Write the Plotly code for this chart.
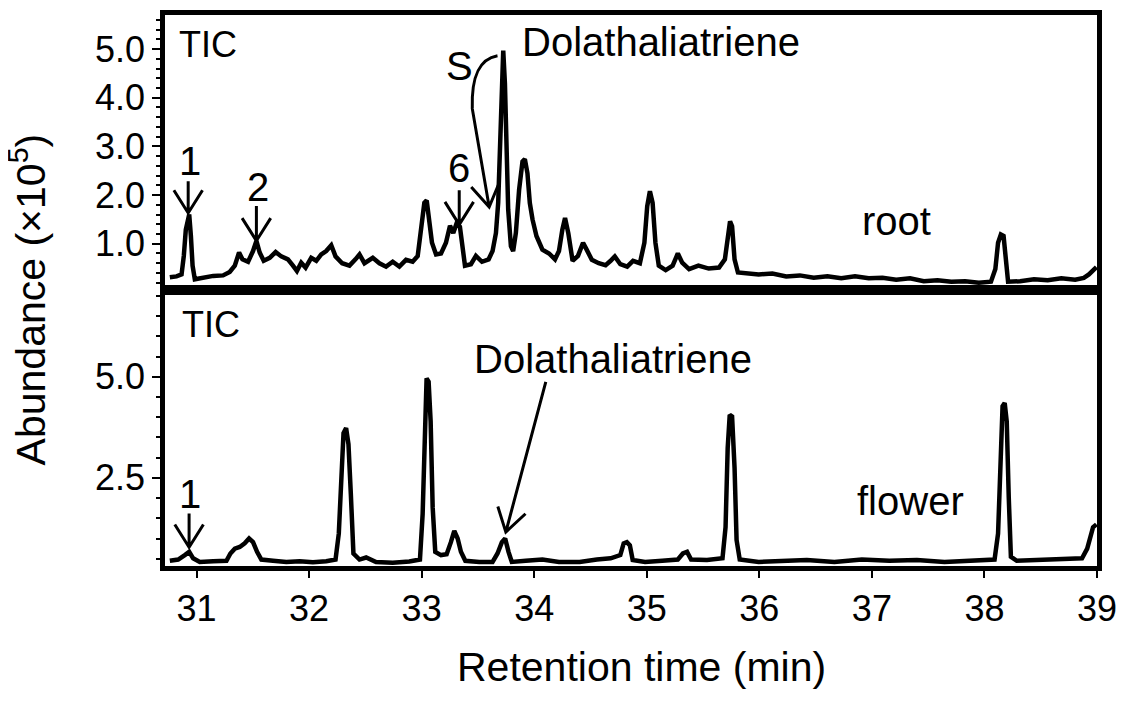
import numpy as np
import plotly.graph_objects as go
from plotly.subplots import make_subplots

# root TIC (retention time in min, abundance x10^5)
root_time = [30.763, 30.822, 30.867, 30.887, 30.905, 30.923, 30.935, 30.95, 30.965, 30.985,
             31.059, 31.148, 31.236, 31.295, 31.34, 31.378, 31.408, 31.458, 31.502, 31.532,
             31.561, 31.597, 31.65, 31.703, 31.753, 31.812, 31.857, 31.892, 31.93, 31.969,
             32.019, 32.064, 32.108, 32.152, 32.197, 32.235, 32.294, 32.359, 32.412, 32.448,
             32.492, 32.566, 32.625, 32.684, 32.743, 32.802, 32.861, 32.92, 32.965, 32.995,
             33.024, 33.045, 33.069, 33.092, 33.128, 33.172, 33.216, 33.252, 33.281, 33.311,
             33.34, 33.364, 33.385, 33.438, 33.482, 33.536, 33.595, 33.63, 33.66, 33.68,
             33.695, 33.71, 33.725, 33.74, 33.754, 33.769, 33.793, 33.813, 33.837, 33.866,
             33.896, 33.917, 33.94, 33.961, 33.985, 34.02, 34.073, 34.132, 34.185, 34.22,
             34.25, 34.274, 34.303, 34.341, 34.389, 34.434, 34.466, 34.512, 34.573, 34.634,
             34.679, 34.716, 34.765, 34.826, 34.878, 34.939, 34.979, 35.004, 35.028, 35.052,
             35.077, 35.107, 35.168, 35.23, 35.276, 35.315, 35.376, 35.459, 35.551, 35.642,
             35.694, 35.719, 35.74, 35.758, 35.78, 35.81, 35.887, 35.994, 36.116, 36.239,
             36.36, 36.483, 36.605, 36.728, 36.85, 36.972, 37.094, 37.216, 37.339, 37.461,
             37.583, 37.706, 37.828, 37.95, 38.058, 38.097, 38.121, 38.146, 38.17, 38.189,
             38.21, 38.317, 38.44, 38.562, 38.683, 38.806, 38.883, 38.928, 38.959, 38.995]
root_abund = [0.31, 0.33, 0.37, 0.75, 1.29, 1.57, 1.60, 1.16, 0.55, 0.27,
              0.31, 0.34, 0.35, 0.42, 0.55, 0.82, 0.68, 0.63, 0.85, 1.06,
              0.82, 0.65, 0.71, 0.83, 0.74, 0.68, 0.55, 0.44, 0.61, 0.51,
              0.71, 0.65, 0.78, 0.85, 0.97, 0.74, 0.60, 0.55, 0.68, 0.78,
              0.60, 0.71, 0.60, 0.53, 0.63, 0.53, 0.67, 0.63, 0.75, 1.29,
              1.84, 1.89, 1.50, 1.02, 0.78, 0.80, 1.02, 1.37, 1.22, 1.42,
              1.35, 0.95, 0.55, 0.58, 0.75, 0.63, 0.68, 0.85, 1.22, 1.84,
              3.06, 4.22, 4.97, 4.29, 2.86, 1.70, 0.95, 0.85, 1.22, 2.11,
              2.69, 2.74, 2.45, 1.84, 1.50, 1.16, 0.88, 0.80, 0.68, 0.85,
              1.29, 1.53, 1.22, 0.65, 0.75, 1.02, 0.88, 0.67, 0.60, 0.56,
              0.65, 0.74, 0.58, 0.53, 0.65, 0.60, 1.02, 1.77, 2.08, 1.84,
              1.02, 0.55, 0.46, 0.55, 0.80, 0.61, 0.48, 0.55, 0.49, 0.51,
              0.68, 1.22, 1.46, 1.36, 0.68, 0.41, 0.39, 0.37, 0.39, 0.33,
              0.35, 0.30, 0.33, 0.29, 0.33, 0.29, 0.30, 0.26, 0.29, 0.23,
              0.25, 0.22, 0.23, 0.20, 0.22, 0.48, 1.02, 1.19, 1.16, 0.68,
              0.22, 0.23, 0.27, 0.25, 0.29, 0.26, 0.30, 0.37, 0.44, 0.52]

# flower TIC
flower_time = [30.763, 30.837, 30.896, 30.935, 30.97, 31.029, 31.148, 31.266, 31.301, 31.34,
               31.384, 31.428, 31.467, 31.502, 31.538, 31.576, 31.68, 31.798, 31.916, 32.034,
               32.152, 32.235, 32.264, 32.285, 32.306, 32.329, 32.35, 32.371, 32.394, 32.448,
               32.507, 32.595, 32.743, 32.89, 32.985, 33.009, 33.027, 33.044, 33.062, 33.08,
               33.098, 33.121, 33.172, 33.222, 33.26, 33.29, 33.32, 33.349, 33.388, 33.512,
               33.63, 33.674, 33.713, 33.742, 33.772, 33.801, 33.925, 34.073, 34.22, 34.404,
               34.557, 34.679, 34.765, 34.795, 34.823, 34.85, 34.875, 34.985, 35.138, 35.276,
               35.321, 35.358, 35.394, 35.535, 35.673, 35.70, 35.719, 35.737, 35.758, 35.78,
               35.798, 35.826, 35.994, 36.207, 36.422, 36.667, 36.911, 37.155, 37.40, 37.645,
               37.889, 38.09, 38.121, 38.143, 38.161, 38.18, 38.198, 38.216, 38.235, 38.287,
               38.501, 38.715, 38.867, 38.913, 38.944, 38.965, 38.995]
flower_abund = [0.45, 0.48, 0.59, 0.67, 0.51, 0.42, 0.44, 0.45, 0.63, 0.75,
                0.79, 0.88, 1.00, 0.91, 0.67, 0.48, 0.45, 0.42, 0.44, 0.41,
                0.44, 0.48, 1.12, 2.75, 3.61, 3.73, 3.33, 2.10, 0.63, 0.48,
                0.53, 0.42, 0.40, 0.43, 0.48, 1.61, 3.90, 4.96, 4.88, 3.90,
                1.77, 0.67, 0.59, 0.61, 0.91, 1.19, 1.00, 0.67, 0.45, 0.42,
                0.42, 0.63, 0.91, 1.00, 0.67, 0.42, 0.45, 0.48, 0.42, 0.42,
                0.48, 0.51, 0.59, 0.88, 0.91, 0.83, 0.47, 0.42, 0.45, 0.48,
                0.63, 0.67, 0.48, 0.47, 0.51, 1.28, 3.24, 4.06, 4.02, 2.75,
                0.96, 0.48, 0.42, 0.44, 0.47, 0.42, 0.48, 0.45, 0.47, 0.42,
                0.44, 0.48, 1.12, 3.24, 4.27, 4.35, 3.90, 2.02, 0.55, 0.45,
                0.47, 0.48, 0.51, 0.75, 1.04, 1.28, 1.35]

# text labels inside each panel
root_label_text = ["TIC", "Dolathaliatriene", "S", "1", "2", "6", "root"]
root_label_x = [30.83, 33.87, 33.334, 30.94, 31.546, 33.334, 37.22]
root_label_y = [5.10, 5.14, 4.66, 2.71, 2.17, 2.56, 1.47]
root_label_anchor = ["left", "left", "center", "center", "center", "center", "center"]
root_label_size = [36, 40, 40, 40, 40, 40, 40]

flower_label_text = ["TIC", "Dolathaliatriene", "1", "flower"]
flower_label_x = [30.85, 33.45, 30.94, 37.34]
flower_label_y = [6.30, 5.45, 2.11, 1.94]
flower_label_anchor = ["left", "left", "center", "center"]
flower_label_size = [36, 40, 40, 40]

# arrows: (tail x, tail y, tip x, tip y)
root_arrows = [(30.926, 2.286, 30.926, 1.633),
               (31.532, 1.776, 31.532, 1.061),
               (33.334, 2.10, 33.334, 1.394)]
# curved "S" pointer: start, two control points, end of curve, arrow tip
s_curve = [(33.674, 4.863), (33.512, 4.796), (33.441, 4.449), (33.45, 3.776), (33.60, 1.755)]
flower_arrows = [(30.934, 1.618, 30.934, 0.784),
                 (34.103, 4.877, 33.748, 1.159)]

X_RANGE = [30.72, 39.0]
ROOT_RANGE = [0.06, 5.7]
FLOWER_RANGE = [0.32, 7.16]

# the page body adds an 8 px offset, so the figure is a bit smaller than the window
W, H = 1125, 693
ML, MR, MT, MB = 157, 36, 2, 135
plot_w = W - ML - MR
plot_h = H - MT - MB
split = 279 / plot_h

# pixels per data unit, used to size the open arrowheads
x_px = plot_w / (X_RANGE[1] - X_RANGE[0])
root_px = plot_h * (1 - split) / (ROOT_RANGE[1] - ROOT_RANGE[0])
flower_px = plot_h * split / (FLOWER_RANGE[1] - FLOWER_RANGE[0])

FONT = "Liberation Sans, Arial, sans-serif"


def head_path(tail, tip, ys, length=27, spread=32):
    dx = (tail[0] - tip[0]) * x_px
    dy = (tail[1] - tip[1]) * ys
    n = np.hypot(dx, dy)
    ux, uy = dx / n, dy / n
    arms = []
    for s in (1, -1):
        a = np.radians(spread * s)
        rx = ux * np.cos(a) - uy * np.sin(a)
        ry = ux * np.sin(a) + uy * np.cos(a)
        arms.append((tip[0] + rx * length / x_px, tip[1] + ry * length / ys))
    return "M{},{} L{},{} L{},{}".format(arms[0][0], arms[0][1], tip[0], tip[1],
                                         arms[1][0], arms[1][1])


fig = make_subplots(rows=2, cols=1, shared_xaxes=True, vertical_spacing=0)

fig.add_trace(go.Scatter(x=root_time, y=root_abund, mode="lines",
                         line=dict(color="black", width=4.5), showlegend=False), row=1, col=1)
fig.add_trace(go.Scatter(x=flower_time, y=flower_abund, mode="lines",
                         line=dict(color="black", width=4.5), showlegend=False), row=2, col=1)

shapes = []
arrow_line = dict(color="black", width=3)
for tx, ty, hx, hy in root_arrows:
    shapes.append(dict(type="path", xref="x", yref="y", line=arrow_line,
                       path="M{},{} L{},{} ".format(tx, ty, hx, hy)
                       + head_path((tx, ty), (hx, hy), root_px)))
p0, c1, c2, p1, tip = s_curve
shapes.append(dict(type="path", xref="x", yref="y", line=arrow_line,
                   path="M{},{} C{},{} {},{} {},{} L{},{} ".format(*p0, *c1, *c2, *p1, *tip)
                   + head_path(p1, tip, root_px)))
for tx, ty, hx, hy in flower_arrows:
    shapes.append(dict(type="path", xref="x2", yref="y2", line=arrow_line,
                       path="M{},{} L{},{} ".format(tx, ty, hx, hy)
                       + head_path((tx, ty), (hx, hy), flower_px)))

annotations = []
for t, x, y, a, s in zip(root_label_text, root_label_x, root_label_y,
                         root_label_anchor, root_label_size):
    annotations.append(dict(text=t, x=x, y=y, xref="x", yref="y", xanchor=a, yanchor="middle",
                            showarrow=False, font=dict(size=s, color="black", family=FONT)))
for t, x, y, a, s in zip(flower_label_text, flower_label_x, flower_label_y,
                         flower_label_anchor, flower_label_size):
    annotations.append(dict(text=t, x=x, y=y, xref="x2", yref="y2", xanchor=a, yanchor="middle",
                            showarrow=False, font=dict(size=s, color="black", family=FONT)))
# screen positions below are page pixels; subtract the 8 px body offset
annotations.append(dict(text="Abundance (×10<sup>5</sup>)", textangle=-90,
                        x=(28 - 8 - ML) / plot_w, y=(H - MB - (297 - 8)) / plot_h,
                        xref="paper", yref="paper", xanchor="center", yanchor="middle",
                        showarrow=False, font=dict(size=41, color="black", family=FONT)))
annotations.append(dict(text="Retention time (min)",
                        x=(641 - 8 - ML) / plot_w, y=(H - MB - (668 - 8)) / plot_h,
                        xref="paper", yref="paper", xanchor="center", yanchor="middle",
                        showarrow=False, font=dict(size=41, color="black", family=FONT)))

frame = dict(showline=True, linecolor="black", linewidth=4.5, mirror=True,
             showgrid=False, zeroline=False)

fig.update_xaxes(range=X_RANGE, **frame)
fig.update_xaxes(showticklabels=False, ticks="", row=1, col=1)
fig.update_xaxes(ticks="outside", ticklen=7, tickwidth=2, tickcolor="black",
                 tick0=31, dtick=1, tickfont=dict(size=36, color="black", family=FONT),
                 row=2, col=1)

fig.update_yaxes(range=ROOT_RANGE, domain=[split, 1], tick0=0, dtick=1, tickformat=".1f",
                 ticks="outside", ticklen=8, tickwidth=2, tickcolor="black",
                 minor=dict(dtick=0.2, ticks="outside", ticklen=4, tickwidth=1.5, tickcolor="black"),
                 tickfont=dict(size=36, color="black", family=FONT), row=1, col=1, **frame)
fig.update_yaxes(range=FLOWER_RANGE, domain=[0, split], tick0=0, dtick=2.5, tickformat=".1f",
                 ticks="outside", ticklen=8, tickwidth=2, tickcolor="black",
                 minor=dict(dtick=0.5, ticks="outside", ticklen=4, tickwidth=1.5, tickcolor="black"),
                 tickfont=dict(size=36, color="black", family=FONT), row=2, col=1, **frame)

fig.update_layout(width=W, height=H, margin=dict(l=ML, r=MR, t=MT, b=MB),
                  plot_bgcolor="white", paper_bgcolor="white",
                  font=dict(family=FONT, color="black"),
                  shapes=shapes, annotations=annotations, showlegend=False)

fig.write_html("out.html")
